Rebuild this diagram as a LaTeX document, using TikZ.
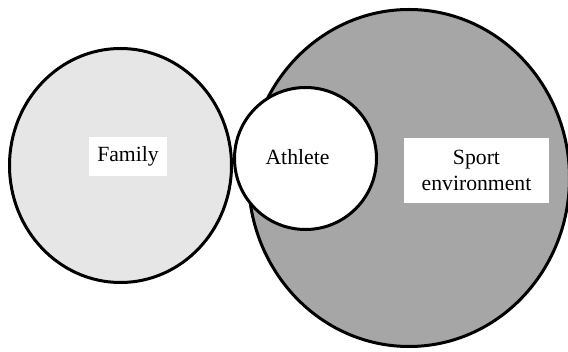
\documentclass[tikz,border=0pt]{standalone}
\usepackage{fontspec}
\setmainfont{Liberation Serif}
\usetikzlibrary{shapes.geometric}
\definecolor{familygray}{RGB}{230,230,230}
\definecolor{sportgray}{RGB}{166,166,166}
\tikzset{
  sphere/.style={ellipse, draw=black, line width=3pt, inner sep=0pt},
  tag/.style={fill=white, inner sep=0pt, align=center,
    font=\fontsize{21.7}{26}\selectfont}
}
\begin{document}
\begin{tikzpicture}[x=1pt,y=-1pt]
  \useasboundingbox (0,0) rectangle (568,352);
  % the three spheres of influence
  \node[sphere, fill=familygray, minimum width=222pt, minimum height=234pt] (family) at (120.5,165.5) {};
  \node[sphere, fill=sportgray, minimum width=321pt, minimum height=337pt] (sport) at (409,178) {};
  \node[sphere, fill=white, minimum width=142pt, minimum height=142pt] (athlete) at (305.5,158.5) {};
  % labels
  \node[tag, minimum width=78pt, minimum height=39pt] (familylabel) at (128,156.5) {Family};
  \node[tag] (athletelabel) at (297.5,157) {Athlete};
  \node[tag, minimum width=145pt, minimum height=65pt] (sportlabel) at (476.5,170.5) {Sport\\environment};
\end{tikzpicture}
\end{document}
